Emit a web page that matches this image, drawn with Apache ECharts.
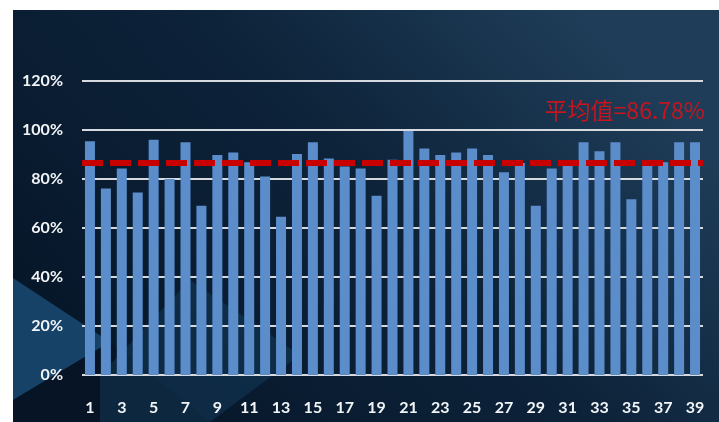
<!DOCTYPE html>
<html>
<head>
<meta charset="utf-8">
<script src="https://cdn.jsdelivr.net/npm/echarts@6/dist/echarts.min.js"></script>
<style>
  html, body { margin: 0; padding: 0; background: #ffffff; }
  #chart { width: 719px; height: 422px; }
</style>
</head>
<body>
<div id="chart"></div>
<script>
// Sample numbers 1..39
const categories = Array.from({ length: 39 }, (_, i) => String(i + 1));

// Rate per sample, in percent
const rates = [
  95.4, 76.1, 84.3, 74.5, 96.0, 80.0, 95.0, 69.1, 89.8, 90.8,
  86.8, 81.0, 64.6, 90.2, 95.0, 88.4, 85.1, 84.3, 73.2, 87.9,
  99.6, 92.5, 89.8, 90.8, 92.5, 89.8, 82.8, 86.5, 69.1, 84.3,
  86.8, 95.0, 91.3, 95.0, 71.7, 85.5, 86.8, 95.0, 95.0
];

// Reported mean rate, in percent
const averageRate = 86.78;

// Y axis ticks
const yTicks = [0, 20, 40, 60, 80, 100, 120];

const chart = echarts.init(document.getElementById('chart'), null, { renderer: 'canvas' });

const labelFont = 'Lato, "Open Sans", "DejaVu Sans", sans-serif';

chart.setOption({
  animation: false,
  backgroundColor: 'transparent',
  graphic: [
    {
      type: 'rect', z: -20, silent: true,
      shape: { x: 13, y: 10, width: 706, height: 412 },
      style: {
        fill: new echarts.graphic.LinearGradient(0.2, 1, 0.8, 0, [
          { offset: 0, color: '#07172a' },
          { offset: 0.55, color: '#0d233a' },
          { offset: 1, color: '#1f3d58' }
        ])
      }
    },
    {
      type: 'polygon', z: -19, silent: true,
      shape: { points: [[13, 278], [110, 342], [13, 400]] },
      style: { fill: 'rgba(38,110,165,0.5)' }
    },
    {
      type: 'polygon', z: -19, silent: true,
      shape: { points: [[13, 400], [110, 342], [210, 422], [13, 422]] },
      style: { fill: 'rgba(6,18,32,0.55)' }
    },
    {
      type: 'polygon', z: -19, silent: true,
      shape: { points: [[100, 375], [190, 280], [300, 355], [210, 422], [100, 422]] },
      style: { fill: 'rgba(30,95,140,0.25)' }
    }
  ],
  grid: { left: 82, right: 16, top: 81, bottom: 47, containLabel: false },
  xAxis: {
    type: 'category',
    data: categories,
    axisLine: { show: false },
    axisTick: { show: false },
    axisLabel: {
      interval: 1,
      color: '#f2f5f8',
      fontFamily: labelFont,
      fontWeight: 'bold',
      fontSize: 16,
      margin: 25
    }
  },
  yAxis: {
    type: 'value',
    min: yTicks[0],
    max: yTicks[yTicks.length - 1],
    interval: 20,
    axisLine: { show: false },
    axisTick: { show: false },
    splitLine: { lineStyle: { color: '#d6dadf', width: 2 } },
    axisLabel: {
      formatter: '{value}%',
      color: '#f2f5f8',
      fontFamily: labelFont,
      fontWeight: 'bold',
      fontSize: 16,
      margin: 19
    }
  },
  series: [
    {
      type: 'bar',
      data: rates,
      barWidth: 10,
      itemStyle: { color: '#5b8dca' },
      emphasis: { disabled: true },
      markLine: {
        silent: true,
        symbol: 'none',
        data: [{ yAxis: averageRate }],
        lineStyle: { color: '#c80000', width: 6, type: [21, 7] },
        label: {
          show: true,
          position: 'insideEndTop',
          formatter: () => '平均值=' + averageRate.toFixed(2) + '%',
          color: '#c8141e',
          fontFamily: '"Noto Sans CJK SC", sans-serif',
          fontSize: 23,
          offset: [7, -36]
        }
      }
    }
  ]
});
</script>
</body>
</html>
